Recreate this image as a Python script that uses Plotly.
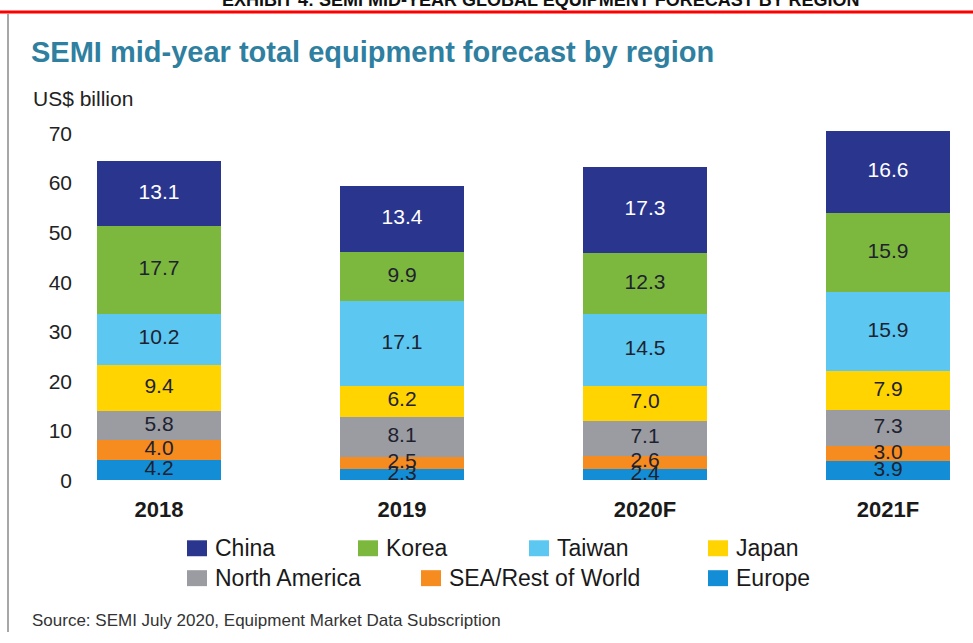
import plotly.graph_objects as go

# ---------------- data ----------------
years = ["2018", "2019", "2020F", "2021F"]
europe = [4.2, 2.3, 2.4, 3.9]
sea_row = [4.0, 2.5, 2.6, 3.0]
north_america = [5.8, 8.1, 7.1, 7.3]
japan = [9.4, 6.2, 7.0, 7.9]
taiwan = [10.2, 17.1, 14.5, 15.9]
korea = [17.7, 9.9, 12.3, 15.9]
china = [13.1, 13.4, 17.3, 16.6]
y_ticks = [0, 10, 20, 30, 40, 50, 60, 70]

# stacking order bottom -> top
series = [
    ("Europe", europe),
    ("SEA/Rest of World", sea_row),
    ("North America", north_america),
    ("Japan", japan),
    ("Taiwan", taiwan),
    ("Korea", korea),
    ("China", china),
]

# ---------------- style ----------------
W, H = 973, 643
H_EFF = 632  # effective rendered height used for placing paper-relative items
colors = {
    "China": "#2A358E",
    "Korea": "#7DB83E",
    "Taiwan": "#5CC7F0",
    "Japan": "#FFD400",
    "North America": "#9A9CA2",
    "SEA/Rest of World": "#F68B1F",
    "Europe": "#138ED6",
}
label_colors = {"China": "#FFFFFF"}
dark_text = "#1E2230"
FONT = "Liberation Sans, Arial, sans-serif"

# legend layout (pixel positions of the swatch left edge, row centre y)
legend_layout = {
    "China": (187, 548), "Korea": (358, 548), "Taiwan": (529, 548), "Japan": (708, 548),
    "North America": (187, 578), "SEA/Rest of World": (421, 578), "Europe": (708, 578),
}

def px(x):
    return x / W

def py(y):
    return 1 - y / H_EFF

# plot area placement
plot_left, plot_bottom, plot_top = 76, 480, 122
cat_step, first_center = 243, 159
x0 = -(first_center - plot_left) / cat_step
x1 = x0 + (W - plot_left) / cat_step

fig = go.Figure()

cum = [0.0] * len(years)
for name, vals in series:
    fig.add_trace(go.Bar(
        x=years, y=vals, name=name, width=0.51,
        marker=dict(color=colors[name], line=dict(width=0)),
        showlegend=False, hoverinfo="x+y+name",
    ))
    mids = [c + v / 2 for c, v in zip(cum, vals)]
    fig.add_trace(go.Scatter(
        x=years, y=mids, mode="text", text=[f"{v:.1f}" for v in vals],
        textposition="middle center",
        textfont=dict(family=FONT, size=21, color=label_colors.get(name, dark_text)),
        showlegend=False, hoverinfo="skip", cliponaxis=False,
    ))
    cum = [c + v for c, v in zip(cum, vals)]

fig.update_layout(
    width=W, height=H,
    margin=dict(l=0, r=0, t=0, b=0),
    paper_bgcolor="white", plot_bgcolor="rgba(0,0,0,0)",
    barmode="stack",
    font=dict(family=FONT, color="#222222"),
    xaxis=dict(
        domain=[px(plot_left), 1], range=[x0, x1], type="category",
        showgrid=False, showline=False, zeroline=False, ticks="",
        tickfont=dict(family=FONT, size=22, color="#1a1a1a", weight="bold"),
        ticklabelstandoff=14,
    ),
    yaxis=dict(
        domain=[py(plot_bottom), py(plot_top)], range=[0, 72],
        tickvals=y_ticks, showgrid=False, showline=False, zeroline=False,
        ticks="", tickfont=dict(family=FONT, size=21, color="#222222"),
        ticklabelstandoff=3,
    ),
)

annotations = []
shapes = []

# cut-off exhibit heading at very top
annotations.append(dict(
    text="<b>EXHIBIT 4: SEMI MID-YEAR GLOBAL EQUIPMENT FORECAST BY REGION</b>",
    xref="paper", yref="paper", x=px(540), y=py(10), xanchor="center", yanchor="bottom",
    showarrow=False, font=dict(family=FONT, size=18, color="#111111"),
))
# title
annotations.append(dict(
    text="<b>SEMI mid-year total equipment forecast by region</b>",
    xref="paper", yref="paper", x=px(29), y=py(50), xanchor="left", yanchor="middle",
    showarrow=False, font=dict(family=FONT, size=29, color="#2F7FA0"),
))
# unit label
annotations.append(dict(
    text="US$ billion", xref="paper", yref="paper", x=px(31), y=py(97),
    xanchor="left", yanchor="middle", showarrow=False,
    font=dict(family=FONT, size=21, color="#222222"),
))
# source
annotations.append(dict(
    text="Source: SEMI July 2020, Equipment Market Data Subscription",
    xref="paper", yref="paper", x=px(30), y=py(620),
    xanchor="left", yanchor="middle", showarrow=False,
    font=dict(family=FONT, size=17, color="#333333"),
))

# manual legend built from the series names/colours
for name, _ in series:
    sx, sy = legend_layout[name]
    shapes.append(dict(
        type="rect", xref="paper", yref="paper",
        x0=px(sx), x1=px(sx + 20), y0=py(sy + 8), y1=py(sy - 8),
        fillcolor=colors[name], line=dict(width=0),
    ))
    annotations.append(dict(
        text=name, xref="paper", yref="paper", x=px(sx + 26), y=py(sy),
        xanchor="left", yanchor="middle", showarrow=False,
        font=dict(family=FONT, size=23, color="#1a1a1a"),
    ))

# red rule at the top and grey frame line on the left
shapes.append(dict(type="line", xref="paper", yref="paper",
                   x0=0, x1=1, y0=py(10), y1=py(10),
                   line=dict(color="#FF0000", width=3)))
shapes.append(dict(type="line", xref="paper", yref="paper",
                   x0=px(8), x1=px(8), y0=py(12), y1=0,
                   line=dict(color="#8A8A8A", width=1.5)))

fig.update_layout(annotations=annotations, shapes=shapes)
fig.write_html("out.html")
